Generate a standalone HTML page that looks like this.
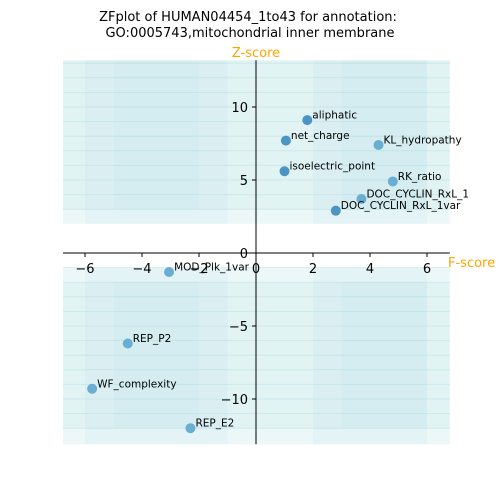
<!DOCTYPE html>
<html><head><meta charset="utf-8"><style>
body{margin:0;background:#fff}
svg{display:block;font-family:"DejaVu Sans","Liberation Sans",sans-serif}
</style></head><body>
<svg id="chart" width="500" height="500">
<text x="248" y="21" text-anchor="middle" font-size="13">ZFplot of HUMAN04454_1to43 for annotation:</text>
<text x="250" y="37" text-anchor="middle" font-size="13">GO:0005743,mitochondrial inner membrane</text>
<g id="bg"></g><g id="axes"></g><g id="pts"></g>
</svg>
<script>
const labels=["aliphatic","net_charge","KL_hydropathy","isoelectric_point","RK_ratio","DOC_CYCLIN_RxL_1","DOC_CYCLIN_RxL_1var","MOD_Plk_1var","REP_P2","WF_complexity","REP_E2"];
const fScores=[1.8,1.05,4.3,1.0,4.8,3.7,2.8,-3.05,-4.5,-5.75,-2.3];
const zScores=[9.1,7.7,7.4,5.6,4.9,3.7,2.9,-1.3,-6.2,-9.3,-12.0];
const shades=[1,1,0,1,0,0,1,0,0,0,0];
const xTicks=[-6,-4,-2,0,2,4,6];
const yTicks=[-10,-5,0,5,10];
const NS="http://www.w3.org/2000/svg";
const X=v=>256+v*28.5, Y=v=>253-v*14.6;
const xmin=-6.77,xmax=6.8,ymin=-13.1,ymax=13.2;
const BG='#9fd6de';
function el(t,a,p){const e=document.createElementNS(NS,t);for(const k in a)e.setAttribute(k,a[k]);p.appendChild(e);return e;}
const bg=document.getElementById('bg'),ax=document.getElementById('axes'),pg=document.getElementById('pts');
function rect(x0,x1,y0,y1,op){const r=el('rect',{x:X(x0),y:Y(y1),width:X(x1)-X(x0),height:Y(y0)-Y(y1),fill:BG,'fill-opacity':op},bg);

}
rect(xmin,xmax,2,ymax,0.2);rect(xmin,xmax,ymin,-1,0.2);
rect(-6,-1,2,ymax,0.1);rect(-6,-1,ymin,-1,0.1);
rect(2,6,2,ymax,0.1);rect(2,6,ymin,-1,0.1);
rect(xmin,xmax,3,ymax,0.12);rect(xmin,xmax,-12,-2,0.12);
rect(-5,-2,3,ymax,0.08);rect(-5,-2,-12,-2,0.08);
rect(3,6,3,ymax,0.08);rect(3,6,-12,-2,0.08);
for(let v=-12;v<=13;v++){if(v>-1&&v<3)continue;const l=el('line',{x1:X(xmin),x2:X(xmax),y1:Y(v),y2:Y(v),stroke:BG,'stroke-opacity':0.35},bg);

}
let a=el('line',{x1:X(xmin),x2:X(xmax),y1:Y(0),y2:Y(0),stroke:'#000'},ax);

a=el('line',{x1:X(0),x2:X(0),y1:Y(ymax),y2:Y(ymin),stroke:'#000'},ax);

xTicks.forEach(v=>{el('line',{x1:X(v),x2:X(v),y1:Y(0),y2:Y(0)+4,stroke:'#000'},ax);
const t=el('text',{x:X(v),y:Y(0)+20,'text-anchor':'middle','font-size':13},ax);t.textContent=(v<0?'\u2212'+(-v):v);
});
yTicks.forEach(v=>{el('line',{x1:X(0)-4,x2:X(0),y1:Y(v),y2:Y(v),stroke:'#000'},ax);
const t=el('text',{x:X(0)-8,y:Y(v)+5,'text-anchor':'end','font-size':13},ax);t.textContent=(v<0?'\u2212'+(-v):v);
});
let t=el('text',{x:X(0),y:57,'text-anchor':'middle','font-size':13,fill:'orange'},ax);t.textContent='Z-score';

t=el('text',{x:448,y:267,'font-size':13,fill:'orange'},ax);t.textContent='F-score';

labels.forEach((n,i)=>{const c=el('circle',{cx:X(fScores[i]),cy:Y(zScores[i]),r:5,fill:shades[i]?'#4b94c4':'#6aaed2'},pg);


const l=el('text',{x:X(fScores[i])+5,y:Y(zScores[i])-1.5,'font-size':10.5},pg);l.textContent=n;

});
</script>
</body></html>
